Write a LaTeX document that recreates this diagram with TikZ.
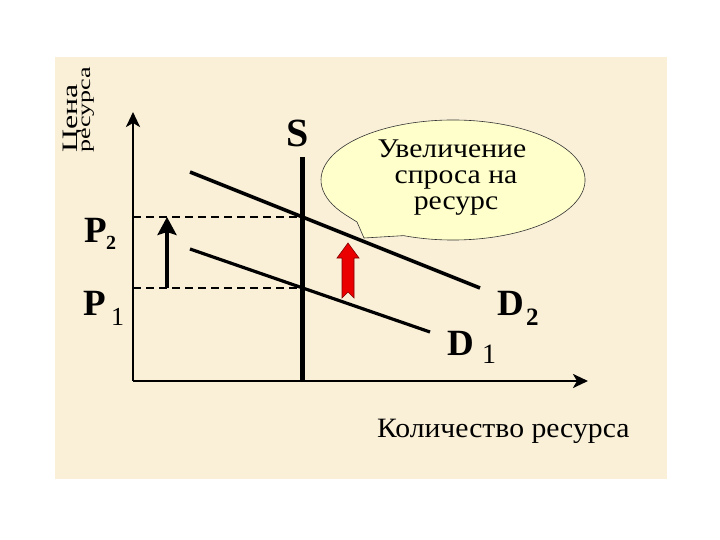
\documentclass[tikz,border=0pt]{standalone}
\usepackage{fontspec}
\setmainfont{Liberation Serif}
\usetikzlibrary{arrows.meta,calc}
\definecolor{beige}{RGB}{250,240,216}
\definecolor{calloutfill}{RGB}{255,255,204}
\definecolor{redarrow}{RGB}{235,0,0}
\newcommand{\hstr}[2]{\scalebox{#1}[1]{#2}}
\begin{document}
\begin{tikzpicture}[x=1pt,y=-1pt,
  lbl/.style={inner sep=0pt, outer sep=0pt, anchor=base west},
  ctr/.style={inner sep=0pt, outer sep=0pt, anchor=base},
  axisline/.style={line width=2.6pt, -{Stealth[width=14pt,length=15pt,inset=4pt]}},
  dashline/.style={line width=1.8pt, dash pattern=on 8pt off 5pt},
  demand/.style={line width=3.6pt},
  supply/.style={line width=5pt},
  bigfont/.style={font=\fontsize{37}{42}\selectfont\bfseries},
  bubble/.style={draw=black!80, line width=0.6pt, fill=calloutfill}]
\useasboundingbox (0,0) rectangle (720,540);
\fill[white] (0,0) rectangle (720,540);
\fill[beige] (55,57) rectangle (667,479);

% axis label (vertical)
\node[lbl, rotate=90] (cena) at (77,153) {\fontsize{22}{26}\selectfont\hstr{1.45}{Цена}};
\node[lbl, rotate=90] (resursa) at (90,153) {\fontsize{18}{22}\selectfont\hstr{1.45}{ресурса}};

% coordinates
\coordinate (O) at (133,381);
\coordinate (Ytop) at (133,112);
\coordinate (Xend) at (588,381);
\coordinate (Stop) at (302,157);
\coordinate (Sbot) at (302,381);
\coordinate (E2) at (302,217);
\coordinate (E1) at (302,288);
\coordinate (Y2) at (133,217);
\coordinate (Y1) at (133,288);
\coordinate (D2a) at (190,172);
\coordinate (D2b) at (480,288);
\coordinate (D1a) at (190,249);
\coordinate (D1b) at (430,332);
\coordinate (BAbot) at (167,288);
\coordinate (BAtop) at (167,217);

% callout
\coordinate (C) at (453,180);
\draw[bubble] (364,238) -- ($(C)+(112:132 and 60)$)
  arc[start angle=112, end angle=-215, x radius=132, y radius=60]
  -- (357,222) -- cycle;
\node[ctr] (t1) at (452,158) {\fontsize{27}{30}\selectfont\hstr{1.1}{Увеличение}};
\node[ctr] (t2) at (456,184) {\fontsize{27}{30}\selectfont\hstr{1.1}{спроса на}};
\node[ctr] (t3) at (456,210) {\fontsize{27}{30}\selectfont\hstr{1.1}{ресурс}};

% dashed lines
\draw[dashline] (Y2) -- (E2);
\draw[dashline] (Y1) -- (E1);

% demand and supply
\draw[demand] (D2a) -- (D2b);
\draw[demand, line width=3.2pt] (D1a) -- (D1b);
\draw[supply] (Stop) -- (Sbot);

% axes
\draw[axisline] (O) -- (Ytop);
\draw[axisline] (O) -- (Xend);

% black arrow
\draw[line width=4pt, -{Stealth[width=19pt,length=18pt,inset=3pt]}] (BAbot) -- (BAtop);

% red arrow
\draw[fill=redarrow, draw=red!50!black, line width=0.6pt]
  (348,243) -- (359,258) -- (354,258) -- (354,298) -- (348,292) -- (342,298)
  -- (342,258) -- (337,258) -- cycle;

% labels
\node[lbl, font=\fontsize{40}{44}\selectfont\bfseries] (S) at (286,147) {S};
\node[lbl, bigfont] (P2) at (84,242) {P};
\node[lbl, font=\fontsize{20}{22}\selectfont\bfseries] (P2s) at (106,249) {2};
\node[lbl, bigfont] (P1) at (83,315) {P};
\node[lbl, font=\fontsize{26}{30}\selectfont] (P1s) at (111,325) {1};
\node[lbl, bigfont] (D2) at (497,315) {D};
\node[lbl, font=\fontsize{25}{30}\selectfont\bfseries] (D2s) at (526,325) {2};
\node[lbl, bigfont] (D1) at (447,355) {D};
\node[lbl, font=\fontsize{28}{32}\selectfont] (D1s) at (482,363) {1};

\node[lbl] (qty) at (377,437) {\fontsize{28}{32}\selectfont\hstr{1.06}{Количество ресурса}};
\end{tikzpicture}
\end{document}
